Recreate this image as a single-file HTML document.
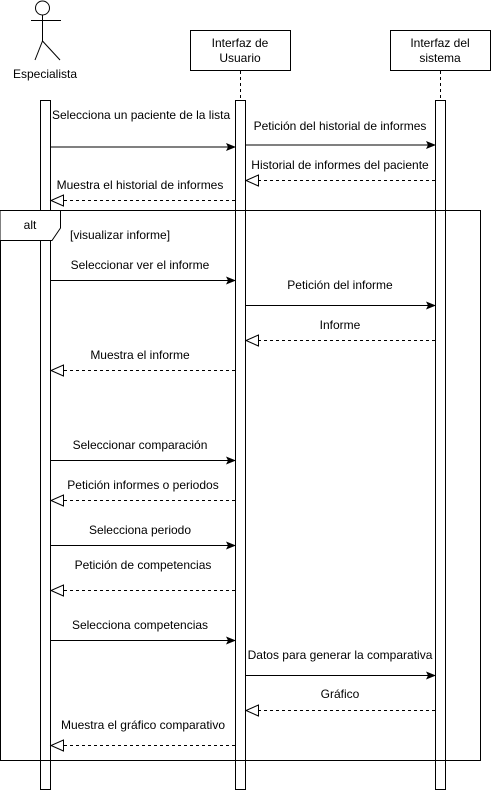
<!DOCTYPE html>
<html><head><meta charset="utf-8"><style>
html,body{margin:0;padding:0;background:#fff;}
svg{display:block;}
text{font-family:"Liberation Sans",Arial,sans-serif;font-size:12px;fill:#000;}
</style></head><body>
<svg width="491" height="791" viewBox="0 0 491 791" xmlns="http://www.w3.org/2000/svg">
<defs>
<marker id="f" markerWidth="10" markerHeight="8" refX="9" refY="4" orient="auto" markerUnits="userSpaceOnUse"><path d="M0,0 L10,4 L0,8 L2,4 Z" fill="#000"/></marker>
<marker id="o" markerWidth="15" markerHeight="13" refX="13.5" refY="6.5" orient="auto" markerUnits="userSpaceOnUse"><path d="M1,1 L13.5,6.5 L1,12 Z" fill="#fff" stroke="#000" stroke-dasharray="none"/></marker>
</defs>
<g stroke="#000" fill="none" stroke-width="1">
<circle cx="42.5" cy="8" r="7"/>
<line x1="42.5" y1="15" x2="42.5" y2="41"/>
<line x1="31" y1="20.5" x2="61" y2="20.5"/>
<line x1="42.5" y1="41" x2="35" y2="60"/>
<line x1="42.5" y1="41" x2="60" y2="60"/>
<rect x="190.5" y="30.5" width="100" height="40"/>
<rect x="390.5" y="30.5" width="100" height="40" />
<line x1="240.5" y1="71" x2="240.5" y2="100" stroke-dasharray="3,3"/>
<line x1="440.5" y1="71" x2="440.5" y2="100" stroke-dasharray="3,3"/>
<rect x="40.5" y="100.5" width="10" height="689" fill="#fff"/>
<rect x="235.5" y="100.5" width="10" height="689" fill="#fff"/>
<rect x="435.5" y="100.5" width="10" height="689" fill="#fff"/>
<rect x="0.5" y="210.5" width="480" height="550"/>
<path d="M0.5,210.5 H60.5 V228 L52,240.5 H0.5" fill="#fff"/>
<line x1="50" y1="147" x2="235" y2="147" marker-end="url(#f)"/>
<line x1="245" y1="145" x2="435" y2="145" marker-end="url(#f)"/>
<line x1="435" y1="180.5" x2="246" y2="180.5" stroke-dasharray="3,3" marker-end="url(#o)"/>
<line x1="235" y1="200.5" x2="51" y2="200.5" stroke-dasharray="3,3" marker-end="url(#o)"/>
<line x1="50" y1="280.5" x2="235" y2="280.5" marker-end="url(#f)"/>
<line x1="245" y1="305.5" x2="435" y2="305.5" marker-end="url(#f)"/>
<line x1="435" y1="340.5" x2="246" y2="340.5" stroke-dasharray="3,3" marker-end="url(#o)"/>
<line x1="235" y1="370.5" x2="51" y2="370.5" stroke-dasharray="3,3" marker-end="url(#o)"/>
<line x1="50" y1="460.5" x2="235" y2="460.5" marker-end="url(#f)"/>
<line x1="235" y1="500.5" x2="51" y2="500.5" stroke-dasharray="3,3" marker-end="url(#o)"/>
<line x1="50" y1="545.5" x2="235" y2="545.5" marker-end="url(#f)"/>
<line x1="235" y1="590.5" x2="51" y2="590.5" stroke-dasharray="3,3" marker-end="url(#o)"/>
<line x1="50" y1="640.5" x2="235" y2="640.5" marker-end="url(#f)"/>
<line x1="245" y1="675.5" x2="435" y2="675.5" marker-end="url(#f)"/>
<line x1="435" y1="710.5" x2="246" y2="710.5" stroke-dasharray="3,3" marker-end="url(#o)"/>
<line x1="235" y1="745.5" x2="51" y2="745.5" stroke-dasharray="3,3" marker-end="url(#o)"/>
</g>
<g text-anchor="middle">
<text x="45" y="78">Especialista</text>
<text x="240" y="47">Interfaz de</text>
<text x="240" y="62">Usuario</text>
<text x="440" y="47">Interfaz del</text>
<text x="440" y="62">sistema</text>
<text x="340" y="130">Petición del historial de informes</text>
<text x="340" y="169">Historial de informes del paciente</text>
<text x="140" y="189">Muestra el historial de informes</text>
<text x="30" y="229">alt</text>
<text x="140" y="269">Seleccionar ver el informe</text>
<text x="340" y="289">Petición del informe</text>
<text x="340" y="329">Informe</text>
<text x="140" y="359">Muestra el informe</text>
<text x="140" y="449">Seleccionar comparación</text>
<text x="143" y="489">Petición informes o periodos</text>
<text x="140" y="534">Selecciona periodo</text>
<text x="143" y="569">Petición de competencias</text>
<text x="140" y="629">Selecciona competencias</text>
<text x="340" y="659">Datos para generar la comparativa</text>
<text x="340" y="698">Gráfico</text>
<text x="143" y="729">Muestra el gráfico comparativo</text>
</g>
<text x="52" y="119">Selecciona un paciente de la lista</text>
<text x="70" y="239">[visualizar informe]</text>
</svg>
</body></html>
